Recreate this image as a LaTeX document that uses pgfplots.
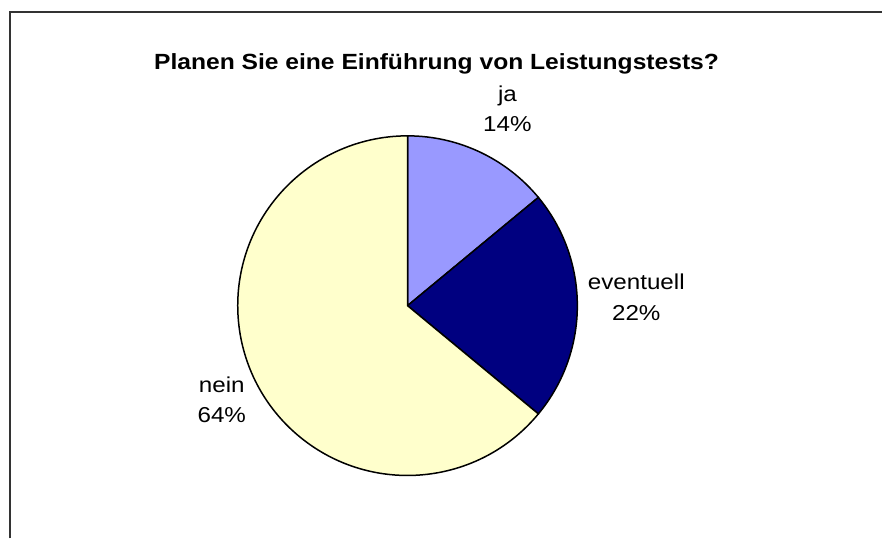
\documentclass[border=0pt]{standalone}
\usepackage{pgfplots}
\pgfplotsset{compat=1.18}
\usepackage{fontspec}
\setmainfont[FakeStretch=1.12]{Liberation Sans}
\definecolor{jaC}{HTML}{9999FF}
\definecolor{evC}{HTML}{000080}
\definecolor{neinC}{HTML}{FFFFCC}
% values (percent)
\def\vJa{14}
\def\vEv{22}
\def\vNein{64}
\begin{document}
\begin{tikzpicture}
\begin{axis}[
  scale only axis, width=883pt, height=539pt,
  xmin=0, xmax=883, ymin=0, ymax=539, y dir=reverse,
  hide axis, clip=false,
]
% full canvas
\path (axis cs:0,0) rectangle (axis cs:883,539);
% frame
\draw[black!80, line width=2pt] (axis cs:10,539) -- (axis cs:10,12) -- (axis cs:883,12);
% title
\node[font=\fontsize{22}{26}\selectfont\bfseries, anchor=base] at (axis cs:437,70) {Planen Sie eine Einführung von Leistungstests?};
% pie slices
\filldraw[fill=jaC, draw=black, line width=1.5pt] (axis cs:408,306) -- ++(90:170pt)
  arc[start angle=90, end angle={90-3.6*\vJa}, radius=170pt] -- cycle;
\filldraw[fill=evC, draw=black, line width=1.5pt] (axis cs:408,306) -- ++({90-3.6*\vJa}:170pt)
  arc[start angle={90-3.6*\vJa}, end angle={90-3.6*(\vJa+\vEv)}, radius=170pt] -- cycle;
\filldraw[fill=neinC, draw=black, line width=1.5pt] (axis cs:408,306) -- ++({90-3.6*(\vJa+\vEv)}:170pt)
  arc[start angle={90-3.6*(\vJa+\vEv)}, end angle={90-3.6*(\vJa+\vEv+\vNein)}, radius=170pt] -- cycle;
% labels
\node[font=\fontsize{21.6}{25}\selectfont, anchor=base] at (axis cs:508,102) {ja};
\node[font=\fontsize{21.6}{25}\selectfont, anchor=base] at (axis cs:508,132) {\vJa\%};
\node[font=\fontsize{21.6}{25}\selectfont, anchor=base] at (axis cs:637,290) {eventuell};
\node[font=\fontsize{21.6}{25}\selectfont, anchor=base] at (axis cs:637,321) {\vEv\%};
\node[font=\fontsize{21.6}{25}\selectfont, anchor=base] at (axis cs:222,393) {nein};
\node[font=\fontsize{21.6}{25}\selectfont, anchor=base] at (axis cs:222,423) {\vNein\%};
\end{axis}
\end{tikzpicture}
\end{document}
